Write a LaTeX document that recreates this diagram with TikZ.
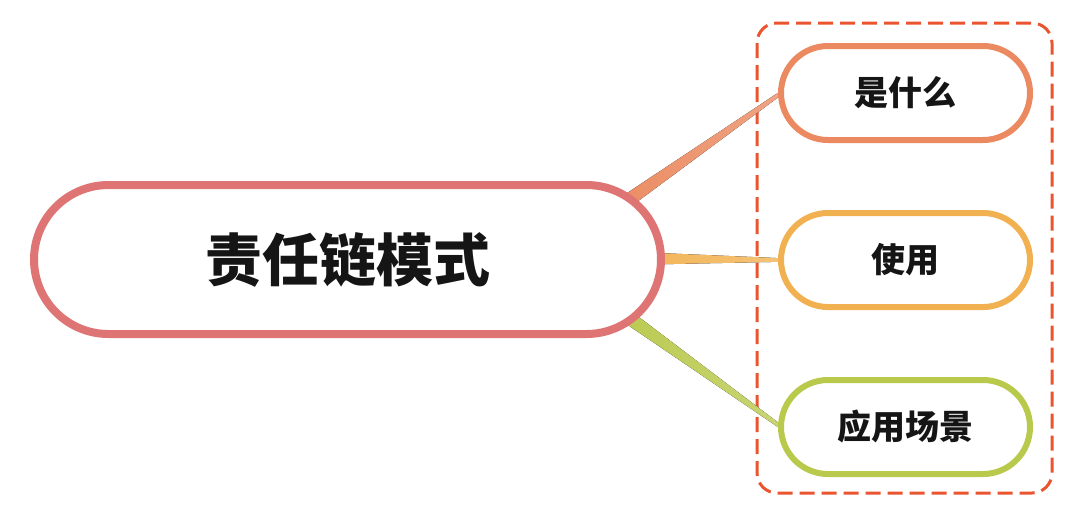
\documentclass[tikz,border=0pt]{standalone}
\usepackage{fontspec}
\newfontfamily\cjk{Noto Sans CJK SC}
\usetikzlibrary{shapes.misc,calc}
\definecolor{mainc}{HTML}{DF7474}
\definecolor{c1}{HTML}{EB8A60}
\definecolor{c2}{HTML}{F2B150}
\definecolor{c3}{HTML}{B9C94C}
\definecolor{boxc}{HTML}{EA5530}
\definecolor{txt}{HTML}{151515}
\tikzset{
  mainnode/.style={rounded rectangle, draw=mainc, line width=8pt, fill=white,
    minimum width=627pt, minimum height=149pt, inner sep=0pt,
    font=\cjk\bfseries\fontsize{57pt}{60pt}\selectfont, text=txt},
  childnode/.style={rounded rectangle, line width=6pt, fill=white,
    minimum width=249pt, minimum height=94pt, inner sep=0pt,
    font=\cjk\bfseries\fontsize{34pt}{36pt}\selectfont, text=txt},
  groupbox/.style={draw=boxc, line width=3pt, dash pattern=on 15pt off 7pt, rounded corners=20pt}
}
\begin{document}
\begin{tikzpicture}[x=1pt,y=-1pt]
\useasboundingbox (0,0) rectangle (1080,517);
% dashed group box
\draw[groupbox] (757,23) rectangle (1052,493);
% anchor points inside main node for connectors
\coordinate (s1) at (600,220);
\coordinate (s2) at (600,258);
\coordinate (s3) at (600,297);
% child nodes positions
\coordinate (p1) at (905.5,93);
\coordinate (p2) at (905.5,260);
\coordinate (p3) at (905.5,427);
% connector end points at child borders
\coordinate (e1) at (781,93);
\coordinate (e2) at (781,260);
\coordinate (e3) at (781,427);
\foreach \i/\c in {1/c1,2/c2,3/c3}{
  \fill[left color=\c, right color=\c!78!white]
    ($(s\i)!7.5pt!90:(e\i)$) -- ($(e\i)!1.8pt!-90:(s\i)$) --
    ($(e\i)!1.8pt!90:(s\i)$) -- ($(s\i)!7.5pt!-90:(e\i)$) -- cycle;
}
\node[mainnode] (main) at (347.5,259.5) {责任链模式};
\node[childnode, draw=c1] (n1) at (p1) {是什么};
\node[childnode, draw=c2] (n2) at (p2) {使用};
\node[childnode, draw=c3] (n3) at (p3) {应用场景};
\end{tikzpicture}
\end{document}
